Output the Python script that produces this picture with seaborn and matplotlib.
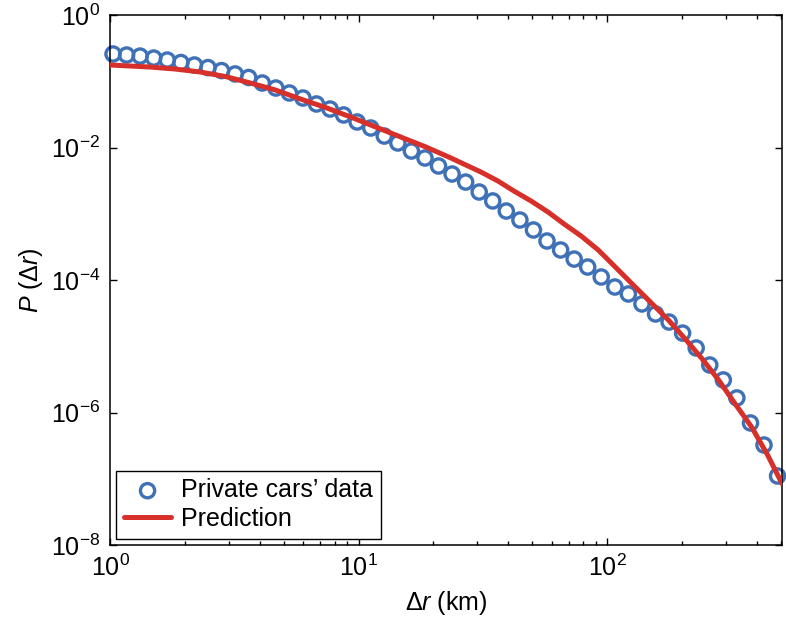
import numpy as np
import pandas as pd
import seaborn as sns
import matplotlib
matplotlib.use('Agg')
import matplotlib.pyplot as plt
from matplotlib.ticker import LogLocator, NullLocator

# data
dist_km = [1.028, 1.166, 1.321, 1.499, 1.699, 1.928, 2.185, 2.477, 2.809, 3.186,
           3.612, 4.095, 4.645, 5.266, 5.970, 6.767, 7.675, 8.700, 9.863, 11.19,
           12.68, 14.38, 16.30, 18.49, 20.96, 23.76, 26.95, 30.55, 34.63, 39.26,
           44.54, 50.49, 57.25, 64.93, 73.61, 83.45, 94.58, 107.3, 121.6, 137.9,
           156.4, 177.4, 201.0, 227.9, 258.5, 293.1, 332.2, 376.9, 427.2, 484.3]
prob_data = [0.258, 0.249, 0.240, 0.224, 0.209, 0.192, 0.176, 0.161, 0.145, 0.129,
             0.114, 0.0941, 0.0791, 0.0665, 0.0559, 0.0454, 0.0381, 0.0310, 0.0243, 0.0197,
             0.0149, 0.0117, 0.00885, 0.00694, 0.00526, 0.00398, 0.00301, 0.00213, 0.00156, 0.00110,
             8.05e-4, 5.69e-4, 3.88e-4, 2.84e-4, 2.07e-4, 1.57e-4, 1.11e-4, 7.84e-5, 6.15e-5, 4.35e-5,
             3.07e-5, 2.32e-5, 1.58e-5, 9.41e-6, 5.21e-6, 3.10e-6, 1.66e-6, 6.95e-7, 3.23e-7, 1.10e-7]

pred_km = [1.0, 1.45, 1.829, 2.306, 2.909, 3.669, 4.628, 5.836, 7.361, 9.284,
           11.71, 14.77, 18.63, 23.50, 27.01, 31.04, 36.35, 42.17, 49.38, 57.83,
           67.09, 78.58, 91.99, 106.7, 126.1, 150.5, 176.2, 204.4, 239.3, 280.4,
           325.2, 380.8, 441.8, 505.0]
pred_prob = [0.176, 0.164, 0.153, 0.138, 0.118, 0.0941, 0.0738, 0.0540, 0.0402, 0.0289,
             0.0204, 0.0144, 0.0102, 0.00695, 0.00544, 0.00427, 0.00312, 0.00220, 0.00156, 0.00106,
             7.00e-4, 4.61e-4, 2.84e-4, 1.63e-4, 8.70e-5, 4.50e-5, 2.49e-5, 1.33e-5, 6.65e-6, 3.10e-6,
             1.39e-6, 6.04e-7, 2.28e-7, 8.4e-8]

y_ticks = [1e-8, 1e-6, 1e-4, 1e-2, 1e0]

blue = '#3F71B7'
red = '#D7302A'

sns.set_style('ticks')
plt.rcParams['font.family'] = ['Liberation Sans', 'DejaVu Sans']
plt.rcParams['mathtext.fontset'] = 'custom'
plt.rcParams['mathtext.rm'] = 'Liberation Sans'
plt.rcParams['mathtext.it'] = 'Liberation Sans:italic'
plt.rcParams['mathtext.default'] = 'rm'
plt.rcParams['text.color'] = 'black'
plt.rcParams['axes.labelcolor'] = 'black'

fig = plt.figure(figsize=(7.86, 6.26), dpi=100)
ax = fig.add_axes([0.14, 0.1294, 0.855, 0.8466])

df = pd.DataFrame({'dist': dist_km, 'prob': prob_data})
pred = pd.DataFrame({'dist': pred_km, 'prob': pred_prob})

sns.scatterplot(data=df, x='dist', y='prob', ax=ax, marker='o', s=105,
                facecolor='none', edgecolor=blue, linewidth=2.4,
                label='Private cars\u2019 data', clip_on=False, zorder=2)
sns.lineplot(data=pred, x='dist', y='prob', ax=ax, color=red, linewidth=3.6,
             label='Prediction', zorder=3, sort=False)

ax.set_xscale('log')
ax.set_yscale('log')
ax.set_xlim(1, 505)
ax.set_ylim(1e-8, 1)
ax.set_yticks(y_ticks)
ax.yaxis.set_minor_locator(NullLocator())
ax.xaxis.set_minor_locator(LogLocator(base=10, subs=np.arange(2, 10)))

ax.tick_params(which='both', direction='in', top=True, right=True,
               labelsize=18, width=1.0, color='black', labelcolor='black')
ax.tick_params(which='major', length=5, pad=7)
ax.tick_params(which='minor', length=2.8)
for s in ax.spines.values():
    s.set_linewidth(1.1)
    s.set_color('black')

ax.set_xlabel('\u0394$\\it{r}$ (km)', fontsize=18, labelpad=6)
ax.set_ylabel('$\\it{P}$ (\u0394$\\it{r}$)', fontsize=18, labelpad=4)

leg = ax.legend(loc='lower left', fontsize=18, frameon=True, fancybox=False,
                edgecolor='black', borderaxespad=0.25, handlelength=1.9,
                handletextpad=0.4, borderpad=0.3, labelspacing=0.2,
                scatterpoints=1, framealpha=1)
leg.get_frame().set_linewidth(1.0)

plt.savefig('out.png', dpi=100)
plt.close()
